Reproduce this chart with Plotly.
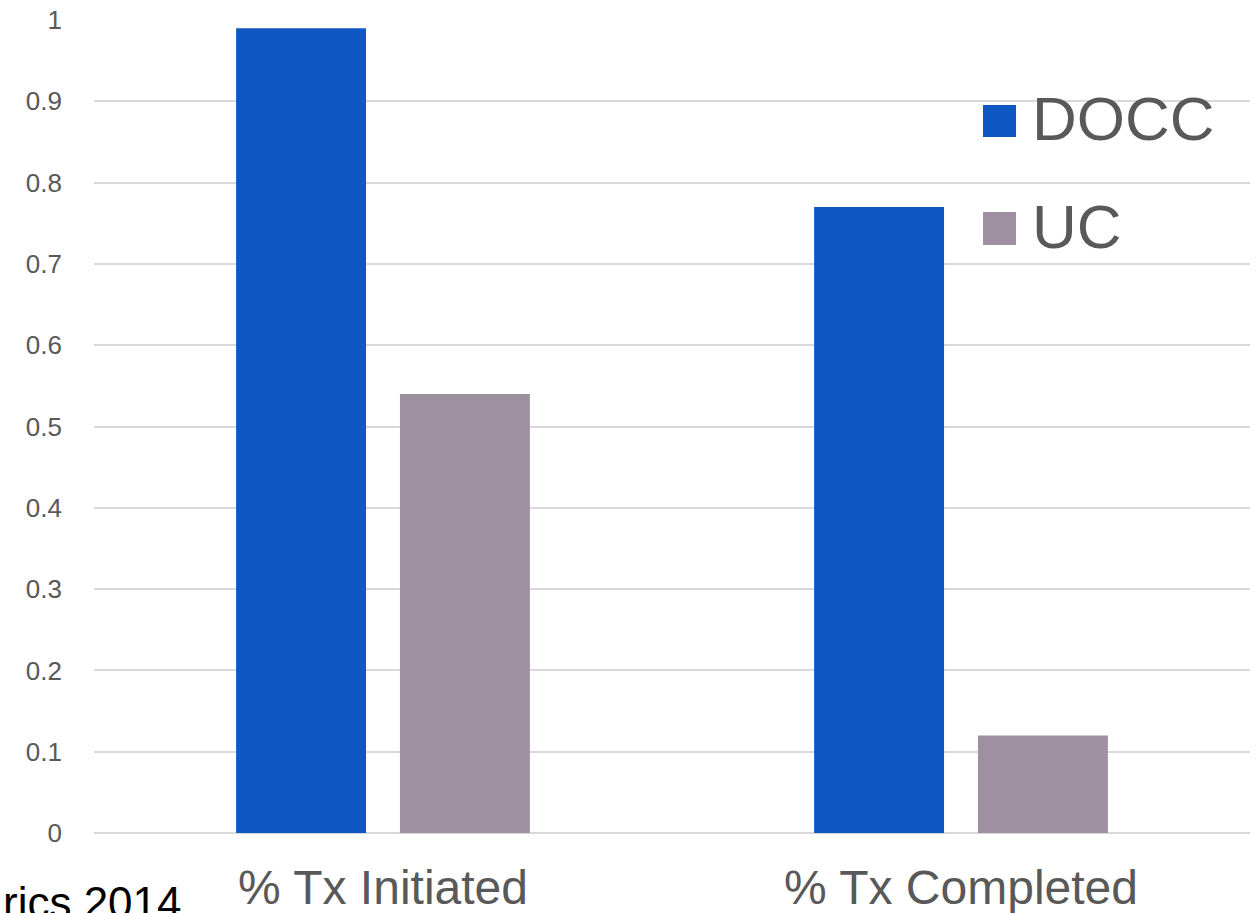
import plotly.graph_objects as go

categories = ["% Tx Initiated", "% Tx Completed"]
docc_values = [0.99, 0.77]
uc_values = [0.54, 0.12]
series_names = ["DOCC", "UC"]
series_colors = ["#0F58C3", "#9E90A0"]
y_tick_values = [0, 0.1, 0.2, 0.3, 0.4, 0.5, 0.6, 0.7, 0.8, 0.9, 1]
y_tick_labels = ["0", "0.1", "0.2", "0.3", "0.4", "0.5", "0.6", "0.7", "0.8", "0.9", "1"]
source_note = "rics 2014"

W, H = 1256, 913
L, R, T, B = 94, 6, 20, 80
pw, ph = W - L - R, H - T - B

def px_x(p):
    return (p - L) / pw

def px_y(p):
    return (H - B - p) / ph

fig = go.Figure()
for name, vals, col in zip(series_names, [docc_values, uc_values], series_colors):
    fig.add_trace(go.Bar(x=categories, y=vals, name=name, marker_color=col,
                         marker_line_width=0, showlegend=False))

fig.update_layout(
    width=W, height=H,
    margin=dict(l=L, r=R, t=T, b=B, pad=0, autoexpand=False),
    paper_bgcolor="white", plot_bgcolor="white",
    barmode="group", bargap=0.433, bargroupgap=0.207,
    font=dict(family="Liberation Sans, Arial, sans-serif", color="#595959"),
)
fig.update_yaxes(range=[0, 1], tickvals=y_tick_values, ticktext=y_tick_labels,
                 showgrid=True, gridcolor="#D9D9D9", gridwidth=1.5,
                 zeroline=True, zerolinecolor="#D9D9D9", zerolinewidth=1.5,
                 showline=False, ticks="", ticklabelstandoff=31, automargin=False,
                 tickfont=dict(size=26, color="#595959"))
fig.update_xaxes(showgrid=False, showline=False, ticks="", ticklabelstandoff=22,
                 automargin=False, tickfont=dict(size=48, color="#595959"))

# legend drawn manually (large symbols)
legend_rows = [(105, 137, 118), (212, 245, 226)]
for (y0, y1, yc), name, col in zip(legend_rows, series_names, series_colors):
    fig.add_shape(type="rect", xref="paper", yref="paper",
                  x0=px_x(983), x1=px_x(1016), y0=px_y(y1), y1=px_y(y0),
                  fillcolor=col, line_width=0)
    fig.add_annotation(xref="paper", yref="paper", x=px_x(1030), y=px_y(yc),
                       xanchor="left", yanchor="middle", text=name, showarrow=False,
                       font=dict(size=62, color="#595959"))

fig.add_annotation(xref="paper", yref="paper", x=px_x(184), y=px_y(876),
                   xanchor="right", yanchor="top", text=source_note, showarrow=False,
                   font=dict(size=44, color="#000000"))

fig.write_html("out.html")
